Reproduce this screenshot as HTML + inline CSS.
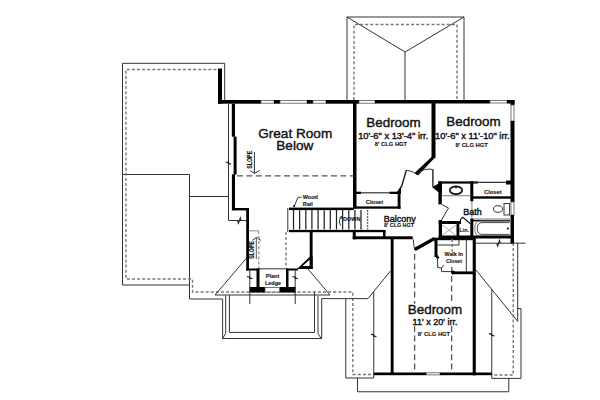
<!DOCTYPE html>
<html><head><meta charset="utf-8">
<style>
html,body{margin:0;padding:0;background:#fff;width:600px;height:400px;overflow:hidden}
svg{display:block}
text{font-family:"Liberation Sans",sans-serif;fill:#111}
.t{fill:none;stroke:#333;stroke-width:1}
.d{fill:none;stroke:#777;stroke-width:1.4;stroke-dasharray:3 2.1}
.d2{fill:none;stroke:#555;stroke-width:1.3;stroke-dasharray:6 3.4}
text{stroke:#111;stroke-width:0.4}
.b{stroke-width:0.1}
.w{fill:#000}
.win{fill:#fff;stroke:#555;stroke-width:0.8}
.b{font-weight:bold}
</style></head>
<body>
<svg width="600" height="400" viewBox="0 0 600 400">
<!-- ===== ROOFS ===== -->
<!-- top roof -->
<polyline class="t" points="347,100 347,17 464,17 464,100"/>
<polyline class="t" points="347,17 405,52 464,17"/>
<line class="t" x1="405" y1="52" x2="405" y2="100"/>
<polyline class="d" points="354,100 354,24.5 457,24.5 457,100"/>

<!-- left roof -->
<polyline class="t" points="224.7,100 224.7,63.3 122.5,63.3 122.5,285 189.5,285"/>
<polyline class="t" points="122.5,174.5 189.5,174.5 189.5,299 222.5,299"/>
<line class="t" x1="189.5" y1="196.5" x2="228.5" y2="196.5"/>
<polyline class="t" points="228.5,104 228.5,220.5 246,220.5"/>
<polyline class="d" points="216.5,69.5 126,69.5 126,279 192.5,279 192.5,292 352.8,292 352.8,374.5 373.75,374.5"/>

<!-- plant ledge roof triangles -->
<polyline class="t" points="246,258.75 215,295 330,295 307.6,268.5"/>

<!-- bay box -->
<polyline class="t" points="222.6,299 222.6,338.5 321.7,338.5 321.7,298.6 367.9,298.6 390.5,271"/>
<polyline class="t" points="225.7,295.5 225.7,333.5 222.6,338.5"/>
<polyline class="t" points="318,296 318,333.5 321.2,338.5"/>
<polyline class="t" points="229.4,295 229.4,332.4 314.5,332.4 314.5,292"/>

<!-- bottom roof -->
<polyline class="t" points="345.75,298.6 345.75,378 373.75,378 373.75,291.5"/>
<polyline class="t" points="357.5,378 357.5,391.75 508.75,391.75 508.75,378"/>
<polyline class="t" points="491.75,289.5 491.75,378.4 521,378.4 521,308.6 517.7,308.6"/>
<line class="t" x1="517.7" y1="243" x2="517.7" y2="321.4"/>
<line class="t" x1="476" y1="243.2" x2="525.5" y2="243.2"/>
<line class="t" x1="476" y1="270" x2="517.7" y2="321.4"/>
<polyline class="d" points="513.25,243 513.25,375 491.75,375"/>

<!-- ===== WALLS ===== -->
<rect class="w" x="218" y="68.5" width="4" height="35.2"/>
<rect class="w" x="218" y="100" width="43" height="3.7"/>
<rect class="win" x="261" y="100.6" width="13" height="2.6"/>
<rect class="w" x="274" y="100" width="6" height="3.7"/>
<rect class="win" x="280" y="100.6" width="27" height="2.6"/>
<rect class="w" x="307" y="100" width="6" height="3.7"/>
<rect class="win" x="313" y="100.6" width="13" height="2.6"/>
<rect class="w" x="326" y="100" width="33" height="3.7"/>
<rect class="win" x="359" y="100.6" width="16" height="2.6"/>
<rect class="w" x="375" y="100" width="115" height="3.5"/>
<rect class="win" x="490" y="100.6" width="17" height="2.4"/>
<rect class="w" x="507" y="100" width="7.5" height="3.5"/>
<!-- right wall -->
<rect class="w" x="510.5" y="100" width="4" height="5"/>
<rect class="win" x="511" y="105" width="3" height="16"/>
<rect class="w" x="510.5" y="121" width="4" height="81"/>
<rect class="win" x="511" y="202" width="3" height="13"/>
<rect class="w" x="510.5" y="215" width="3.5" height="28.5"/>

<!-- great room left wall -->
<rect class="w" x="231.8" y="103.7" width="3.2" height="33"/>
<rect class="w" x="233.6" y="136.6" width="3" height="38"/>
<rect class="w" x="231.9" y="174.3" width="3.1" height="35.9"/>
<rect class="w" x="232" y="208" width="16.6" height="2.4"/>
<rect class="w" x="246.2" y="208" width="2.8" height="62.5"/>
<rect class="w" x="246.2" y="268.5" width="13.3" height="2"/>
<line class="t" x1="259.5" y1="268.8" x2="286" y2="268.8"/>
<rect class="w" x="256.5" y="268.5" width="3" height="19"/>
<rect class="w" x="286" y="268.5" width="2.5" height="19"/>
<rect class="w" x="286" y="268.5" width="12" height="2"/>
<rect class="w" x="249.5" y="287" width="15.5" height="5.5"/>
<rect class="w" x="279.5" y="287" width="16" height="5.5"/>
<rect class="win" x="265" y="287.5" width="14.5" height="4.5"/>
<line class="t" x1="249.8" y1="270.5" x2="249.8" y2="304"/>
<line class="t" x1="295.2" y1="270.5" x2="295.2" y2="304"/>
<!-- ledge triangle -->
<polygon class="w" points="297,269 310,256.5 312.6,256.5 312.6,269"/>
<polygon fill="#fff" points="302.5,266 309.8,259.5 309.8,266"/>
<rect class="w" x="309.7" y="231" width="2.9" height="38"/>

<!-- stairs -->
<rect class="w" x="289" y="207.6" width="65" height="2.5"/>
<rect class="w" x="289" y="229.9" width="96.4" height="2.3"/>
<line class="t" x1="287.8" y1="208" x2="287.8" y2="232"/>
<g stroke="#222" stroke-width="1.25">
<line x1="293.5" y1="210" x2="293.5" y2="229.5"/>
<line x1="299.6" y1="210" x2="299.6" y2="229.5"/>
<line x1="305.8" y1="210" x2="305.8" y2="229.5"/>
<line x1="311.9" y1="210" x2="311.9" y2="229.5"/>
<line x1="318.1" y1="210" x2="318.1" y2="229.5"/>
<line x1="324.2" y1="210" x2="324.2" y2="229.5"/>
<line x1="330.3" y1="210" x2="330.3" y2="229.5"/>
<line x1="336.5" y1="210" x2="336.5" y2="229.5"/>
<line x1="342.6" y1="210" x2="342.6" y2="229.5"/>
<line x1="348.8" y1="210" x2="348.8" y2="229.5"/>
<line x1="354.9" y1="210" x2="354.9" y2="229.5"/>
<line x1="361.0" y1="210" x2="361.0" y2="229.5"/>
</g>
<line x1="367.6" y1="210" x2="367.6" y2="229.5" stroke="#666" stroke-width="1.3" stroke-dasharray="2 1"/>
<!-- stair under box -->
<rect class="w" x="352.75" y="232" width="3" height="7.25"/>
<rect class="w" x="352.75" y="236.3" width="60" height="2.95"/>
<rect class="w" x="383" y="230" width="2.5" height="9"/>
<rect class="w" x="390.7" y="239" width="2.9" height="136"/>

<!-- bedroom1 left wall + closet -->
<rect class="w" x="353" y="103" width="3.5" height="105.5"/>
<rect class="w" x="356" y="191.7" width="5" height="2.3"/>
<line x1="361" y1="192.8" x2="389.4" y2="192.8" stroke="#222" stroke-width="1.1"/>
<rect class="w" x="389.4" y="191.7" width="8.6" height="2.3"/>
<polygon class="w" points="395.5,194 401,186 401,194"/>
<rect class="w" x="353" y="206.4" width="47.5" height="2.3"/>
<rect class="w" x="397.7" y="191" width="2.8" height="17.7"/>

<!-- bedroom divider -->
<rect class="w" x="431.5" y="103" width="4" height="55"/>
<polygon class="w" points="431.5,157 435.5,157 418,175.5 414.5,173"/>
<!-- door leaves -->
<line x1="401.3" y1="187.5" x2="406.3" y2="170.3" stroke="#222" stroke-width="1.4"/>
<path class="t" d="M406.3,170.3 A16,16 0 0 1 416.8,174.5"/>
<line x1="432.9" y1="169.5" x2="432.9" y2="186.6" stroke="#222" stroke-width="1.4"/>
<path class="t" d="M432.9,169.5 A17,17 0 0 0 417,174.5"/>
<polygon class="w" points="432,187 441.8,182 441.8,195"/>

<!-- bath -->
<rect class="w" x="438.4" y="181.4" width="39.4" height="2.2"/>
<line x1="473" y1="182.3" x2="507" y2="182.3" stroke="#333" stroke-width="1.2"/>
<rect class="w" x="506" y="180.5" width="5" height="4"/>
<rect class="w" x="438.4" y="181.4" width="3.4" height="23"/>
<polygon class="w" points="436,186 441.8,184 441.8,191"/>
<polyline class="t" points="441.5,204.5 448.5,208 441.5,220"/>
<rect class="w" x="438.7" y="220" width="3.3" height="18.5"/>
<line x1="441.8" y1="195.7" x2="470.3" y2="195.7" stroke="#888" stroke-width="1.1"/>
<ellipse cx="456" cy="190.3" rx="6.2" ry="3.9" fill="none" stroke="#111" stroke-width="1.7"/>
<circle cx="456" cy="187.6" r="0.9" fill="#111"/>
<rect class="w" x="470.3" y="181.4" width="3" height="20"/>
<rect class="w" x="473" y="196.3" width="38" height="2.4"/>
<text x="492.9" y="193.5" class="b" font-size="5.8" text-anchor="middle">Closet</text>
<!-- toilet -->
<rect x="504" y="203.5" width="5.6" height="11.5" fill="none" stroke="#222" stroke-width="0.9"/>
<ellipse cx="498" cy="209" rx="4.5" ry="3.3" fill="none" stroke="#222" stroke-width="0.9"/>
<!-- tub -->
<line x1="473" y1="218.8" x2="510" y2="218.8" stroke="#888" stroke-width="0.8"/>
<rect class="w" x="473" y="219.8" width="37" height="1.6"/>
<path d="M509.5,220.8 L480,220.8 Q474.8,220.8 474.8,228.5 Q474.8,236.2 480,236.2 L509.5,236.2" fill="none" stroke="#555" stroke-width="0.8"/>
<path d="M509.5,222.6 L482,222.6 Q477.3,222.6 477.3,228.5 Q477.3,234.4 482,234.4 L509.5,234.4" fill="none" stroke="#333" stroke-width="0.9"/>
<circle cx="507.8" cy="228.5" r="1" fill="#000"/>
<line x1="471.9" y1="201" x2="471.9" y2="219" stroke="#777" stroke-width="0.9"/>
<rect class="w" x="470.3" y="218.6" width="3" height="20"/>
<rect class="w" x="438.7" y="235.5" width="75.3" height="3"/>
<text x="472.5" y="215.3" font-size="9" text-anchor="middle">Bath</text>
<!-- Lin / X box -->
<rect class="w" x="438.7" y="221" width="22" height="3"/>
<rect class="w" x="456.5" y="221" width="2.8" height="16"/>
<line x1="442" y1="225" x2="456" y2="235.5" stroke="#777" stroke-width="0.6"/>
<line x1="456" y1="225" x2="442" y2="235.5" stroke="#777" stroke-width="0.6"/>
<polyline fill="none" stroke="#111" stroke-width="1.1" points="460.5,224 460.5,219.2 462.9,217.3 470,223.5"/>
<text x="464.3" y="232" class="b" font-size="5.3" text-anchor="middle">Lin.</text>

<!-- walk-in closet -->
<rect class="w" x="433.7" y="237.7" width="40" height="2.5"/>
<rect class="w" x="434.5" y="238" width="3" height="19"/>
<polygon class="w" points="434.5,255 437.5,255 439.5,258 437,259"/>
<polyline class="t" points="437.6,257.3 437.6,267.5 441.5,268 443.8,265.2"/>
<polyline class="t" points="441.5,268 441.5,271.6 452.2,271.6"/>
<rect class="w" x="452.2" y="271.4" width="21" height="2.8"/>
<circle cx="453" cy="272.6" r="2" fill="#000"/>
<polyline class="t" points="437,245 459,245 459,238.8"/>
<line class="t" x1="466.3" y1="238.8" x2="466.3" y2="272"/>
<rect class="w" x="472.7" y="236.3" width="3.1" height="139"/>
<text x="453.8" y="256.3" class="b" font-size="5.3" text-anchor="middle">Walk In</text>
<text x="454" y="263.2" class="b" font-size="5.3" text-anchor="middle">Closet</text>

<!-- bedroom3 door diagonal -->
<line x1="414.8" y1="249.5" x2="434.5" y2="238.5" stroke="#000" stroke-width="3.2"/>
<path class="t" d="M413.3,239.4 Q413.5,245 414.8,250"/>
<!-- bottom wall -->
<rect class="w" x="373.75" y="372.5" width="52.5" height="2.7"/>
<rect class="win" x="426.3" y="372.8" width="13.7" height="2.1"/>
<rect class="w" x="440" y="372.5" width="51.75" height="2.7"/>

<!-- dashed lines in rooms -->
<line class="d2" x1="237" y1="175.8" x2="354" y2="175.8"/>
<line class="d2" x1="414.6" y1="254" x2="414.6" y2="303.7"/>
<line class="d2" x1="451.8" y1="267" x2="451.8" y2="271"/><line class="d2" x1="451.6" y1="276" x2="451.6" y2="303.7"/>
<line class="d2" x1="414.6" y1="326" x2="414.6" y2="372"/>
<line class="d2" x1="451.6" y1="326" x2="451.6" y2="372"/>
<line class="d" x1="452.2" y1="239" x2="452.2" y2="251.7"/>

<!-- breaks -->
<path fill="none" stroke="#222" stroke-width="1.2" d="M225.7,162.0 L228.7,162.6 L228.3,163.6 L231.1,164.2"/>
<path fill="none" stroke="#222" stroke-width="1.1" d="M237.5,220.6 L238.5,223.4 L240.3,217.9 L241.0,220.6"/>
<path fill="none" stroke="#222" stroke-width="1.2" d="M247.0,276.5 L250.0,277.1 L249.6,278.1 L252.4,278.7"/>
<path fill="none" stroke="#222" stroke-width="1.2" d="M292.4,276.5 L295.4,277.1 L295.0,278.1 L297.8,278.7"/>
<path fill="none" stroke="#222" stroke-width="1.2" d="M370.9,334.4 L373.9,335.0 L373.6,336.0 L376.4,336.6"/>
<path fill="none" stroke="#222" stroke-width="1.2" d="M488.9,333.7 L491.9,334.3 L491.6,335.3 L494.4,335.9"/>
<path fill="none" stroke="#222" stroke-width="1.1" d="M496.7,243.2 L497.7,246.0 L499.5,240.5 L500.2,243.2"/>
<!-- wood rail leader -->
<polyline class="t" points="293.9,207 298,197.3 301.5,197.3"/><circle cx="294.2" cy="206" r="1" fill="#000"/>
<!-- DOWN arrow -->
<path class="t" d="M342.5,216 Q337.5,219.5 340.5,225.5 M339.5,217.5 L342.5,216 L341.5,219"/>

<!-- SLOPE arrows -->
<line class="t" x1="254.4" y1="152" x2="254.4" y2="173.4"/>
<polyline class="t" points="250.4,170.8 254.4,173.4 259.6,170.5"/>
<line x1="256.3" y1="237.6" x2="256.3" y2="259" stroke="#444" stroke-width="0.9"/>
<polyline class="t" points="252.4,240.4 256.3,237.4 260.8,240.4"/>
<polyline fill="none" stroke="#888" stroke-width="1" points="249,230.8 258.6,230.8 258.6,234"/>
<line class="d" x1="258.8" y1="236" x2="258.8" y2="268" style="stroke:#999"/>
<line class="d" x1="286" y1="232" x2="286" y2="268"/>

<!-- ===== TEXT ===== -->
<text x="295.2" y="137.6" font-size="13.6" text-anchor="middle">Great Room</text>
<text x="294.8" y="149.5" font-size="13.6" text-anchor="middle">Below</text>
<text x="393.5" y="126.7" font-size="13.4" text-anchor="middle">Bedroom</text>
<text x="393.2" y="138.7" font-size="9.3" text-anchor="middle">10'-6" x 13'-4" irr.</text>
<text x="391" y="145.5" class="b" font-size="5.8" text-anchor="middle">8' CLG HGT</text>
<text x="473.5" y="126.4" font-size="13.4" text-anchor="middle">Bedroom</text>
<text x="472.4" y="139.2" font-size="9.3" text-anchor="middle">10'-6" x 11'-10" irr.</text>
<text x="471.6" y="147.2" class="b" font-size="5.8" text-anchor="middle">8' CLG HGT</text>
<text x="435" y="313.6" font-size="13.4" text-anchor="middle">Bedroom</text>
<text x="435" y="325" font-size="9" text-anchor="middle">11' x 20' irr.</text>
<text x="434" y="335.5" class="b" font-size="5.8" text-anchor="middle">8' CLG HGT</text>
<text x="374.5" y="203.7" class="b" font-size="5.7" text-anchor="middle">Closet</text>
<text x="399.8" y="221.8" font-size="9" text-anchor="middle">Balcony</text>
<text x="399" y="226.8" class="b" font-size="5.4" text-anchor="middle">8' CLG HGT</text>
<text x="302.7" y="199.3" class="b" font-size="5.5">Wood</text>
<text x="302.7" y="206" class="b" font-size="5.5">Rail</text>
<text x="351.7" y="220.5" class="b" font-size="5.5" text-anchor="middle">DOWN</text>
<text x="272.5" y="277.5" class="b" font-size="5.5" text-anchor="middle">Plant</text>
<text x="273" y="284.5" class="b" font-size="5.5" text-anchor="middle">Ledge</text>
<text transform="translate(252.4,159.8) rotate(-90) scale(0.82,1)" class="b" font-size="6.5" text-anchor="middle">SLOPE</text>
<text transform="translate(254.2,250) rotate(-90) scale(0.82,1)" class="b" font-size="6.5" text-anchor="middle">SLOPE</text>
</svg>
</body></html>
